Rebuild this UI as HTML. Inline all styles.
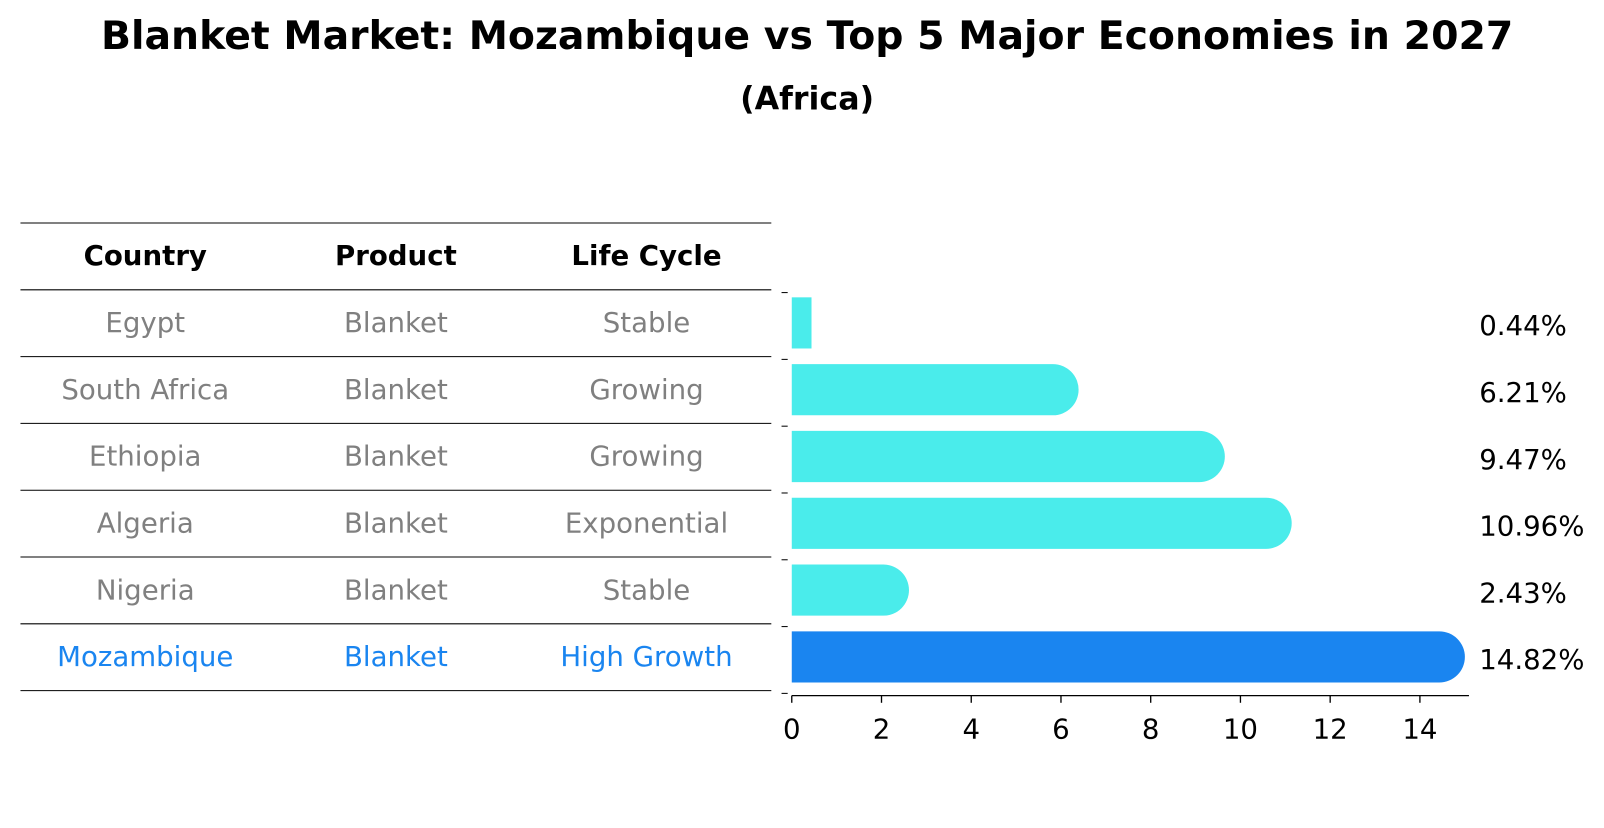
<!DOCTYPE html>
<html><head><meta charset="utf-8"><style>
body{margin:0;background:#fff;font-family:"Liberation Sans","DejaVu Sans",sans-serif}
</style></head><body>
<svg width="1604" height="823" viewBox="0 0 1568 804.5" xmlns="http://www.w3.org/2000/svg" font-family="DejaVu Sans, Liberation Sans, sans-serif">
<text x="789" y="48" text-anchor="middle" font-size="38.5" font-weight="bold">Blanket Market: Mozambique vs Top 5 Major Economies in 2027</text>
<text x="789" y="107" text-anchor="middle" font-size="31" font-weight="bold">(Africa)</text>
<g id="table"></g>
<g id="bars"></g>
</svg>
<script>
const countries=["Egypt","South Africa","Ethiopia","Algeria","Nigeria","Mozambique"];
const products=["Blanket","Blanket","Blanket","Blanket","Blanket","Blanket"];
const lifeCycles=["Stable","Growing","Growing","Exponential","Stable","High Growth"];
const values=[0.44,6.21,9.47,10.96,2.43,14.82];
const valueLabels=["0.44%","6.21%","9.47%","10.96%","2.43%","14.82%"];
const ticks=[0,2,4,6,8,10,12,14];
const NS="http://www.w3.org/2000/svg";
function mk(tag,attrs,parent){const e=document.createElementNS(NS,tag);for(const k in attrs)e.setAttribute(k,attrs[k]);parent.appendChild(e);return e;}
const x0=774,scale=43.86;
const xs=v=>x0+v*scale;
const rowTop=283,rowH=65.3;
const yc=i=>rowTop+rowH*i+rowH/2;
const FS=27;
const table=document.getElementById('table');
const colX=[142,387,632];
for(let i=0;i<8;i++){const y=218+rowH*i;const l=mk('line',{x1:20,x2:754,y1:y,y2:y,stroke:'#000','stroke-width':1},table);

}
["Country","Product","Life Cycle"].forEach((h,j)=>{const t=mk('text',{x:colX[j],y:259,'text-anchor':'middle','font-size':FS,'font-weight':'bold'},table);t.textContent=h;

});
const bars=document.getElementById('bars');
countries.forEach((c,i)=>{
 const col=i===countries.length-1?'#1a85f0':'#808080';
 [c,products[i],lifeCycles[i]].forEach((v,j)=>{const t=mk('text',{x:colX[j],y:yc(i)+9,'text-anchor':'middle','font-size':FS,fill:col},table);t.textContent=v;
 
 });
 const h=50,top=yc(i)-h/2,w=values[i]*scale;
 const isMoz=i===countries.length-1;
 const fill=isMoz?'#1a85f0':'#4aeceb';
 let el;
 if(w>30){const W=w+8,r=25;
  el=mk('path',{d:`M${x0},${top} H${x0+W-r} A${r},${r} 0 0 1 ${x0+W-r},${top+h} H${x0} Z`,fill:fill},bars);}
 else el=mk('rect',{x:x0,y:top,width:w,height:h,fill:fill},bars);
 
 
 const t=mk('text',{x:1446,y:yc(i)+12,'font-size':FS},bars);t.textContent=valueLabels[i];
 
 
});
for(let i=0;i<=6;i++){const y=rowTop+rowH*i+3;const l=mk('line',{x1:764,x2:770,y1:y,y2:y,stroke:'#000'},bars);

}
const ax=mk('line',{x1:x0,x2:1436,y1:680,y2:680,stroke:'#000','stroke-width':1.3},bars);


ticks.forEach(v=>{const l=mk('line',{x1:xs(v),x2:xs(v),y1:680,y2:687,stroke:'#000','stroke-width':1.3},bars);


const t=mk('text',{x:xs(v),y:722,'text-anchor':'middle','font-size':FS},bars);t.textContent=v;

});
</script>
</body></html>
